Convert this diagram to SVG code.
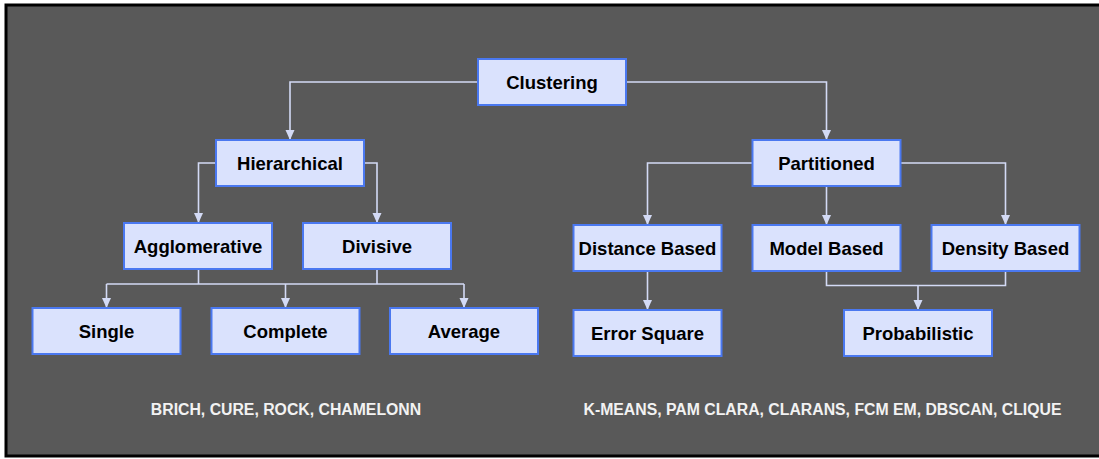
<svg xmlns="http://www.w3.org/2000/svg" width="1099" height="459" viewBox="0 0 1099 459">
<style>
.node rect{fill:#dae2fd;stroke:#4a78f0;stroke-width:2}
.node text{font-family:"Liberation Sans",Arial,sans-serif;font-weight:bold;font-size:18.5px;fill:#000;text-anchor:middle}
.conn path{fill:none;stroke:#d3daf5;stroke-width:1.6}
.note{font-family:"Liberation Sans",Arial,sans-serif;font-weight:bold;font-size:15.8px;fill:#f2f2f2;text-anchor:middle}
</style>
<defs>
<marker id="arr" markerUnits="userSpaceOnUse" markerWidth="10" markerHeight="10" refX="10" refY="4.5" orient="auto">
<path d="M0,0 L10,4.5 L0,9 z" fill="#d3daf5"/>
</marker>
</defs>
<rect x="0" y="0" width="1099" height="459" fill="#ffffff"/>
<rect x="6" y="5" width="1100" height="451" fill="#595959" stroke="#000" stroke-width="3"/>
<g id="connectors" class="conn">
<path d="M478,82 H290 V140" marker-end="url(#arr)"/>
<path d="M626,82 H826.5 V140" marker-end="url(#arr)"/>
<path d="M216,163 H198.5 V223" marker-end="url(#arr)"/>
<path d="M364,163 H377 V223" marker-end="url(#arr)"/>
<path d="M198.5,269 V284"/>
<path d="M377,269 V284"/>
<path d="M106.5,284 H464"/>
<path d="M106.5,284 V308" marker-end="url(#arr)"/>
<path d="M285.5,284 V308" marker-end="url(#arr)"/>
<path d="M464,284 V308" marker-end="url(#arr)"/>
<path d="M752,163 H647.5 V225" marker-end="url(#arr)"/>
<path d="M826.5,186 V225" marker-end="url(#arr)"/>
<path d="M901,163 H1005.5 V225" marker-end="url(#arr)"/>
<path d="M647.5,271 V310" marker-end="url(#arr)"/>
<path d="M826.5,271 V285.5 H1005.5 V271"/>
<path d="M918,285.5 V310" marker-end="url(#arr)"/>
</g>
<g id="clustering" class="node"><rect x="478" y="59" width="148" height="46"/><text x="552" y="88.5">Clustering</text></g>
<g id="hierarchical" class="node"><rect x="216" y="140" width="148" height="46"/><text x="290" y="169.5">Hierarchical</text></g>
<g id="partitioned" class="node"><rect x="752.5" y="140" width="148" height="46"/><text x="826.5" y="169.5">Partitioned</text></g>
<g id="agglomerative" class="node"><rect x="124" y="223" width="148" height="46"/><text x="198" y="252.5">Agglomerative</text></g>
<g id="divisive" class="node"><rect x="303" y="223" width="148" height="46"/><text x="377" y="252.5">Divisive</text></g>
<g id="single" class="node"><rect x="32.5" y="308" width="148" height="46"/><text x="106.5" y="337.5">Single</text></g>
<g id="complete" class="node"><rect x="211.5" y="308" width="148" height="46"/><text x="285.5" y="337.5">Complete</text></g>
<g id="average" class="node"><rect x="390" y="308" width="148" height="46"/><text x="464" y="337.5">Average</text></g>
<g id="distance" class="node"><rect x="573.5" y="225" width="148" height="46"/><text x="647.5" y="254.5">Distance Based</text></g>
<g id="model" class="node"><rect x="752.5" y="225" width="148" height="46"/><text x="826.5" y="254.5">Model Based</text></g>
<g id="density" class="node"><rect x="931.5" y="225" width="148" height="46"/><text x="1005.5" y="254.5">Density Based</text></g>
<g id="error" class="node"><rect x="573.5" y="310" width="148" height="46"/><text x="647.5" y="339.5">Error Square</text></g>
<g id="probabilistic" class="node"><rect x="844" y="310" width="148" height="46"/><text x="918" y="339.5">Probabilistic</text></g>
<text class="note" x="286" y="415">BRICH, CURE, ROCK, CHAMELONN</text>
<text class="note" x="822.5" y="415">K-MEANS, PAM CLARA, CLARANS, FCM EM, DBSCAN, CLIQUE</text>
</svg>
